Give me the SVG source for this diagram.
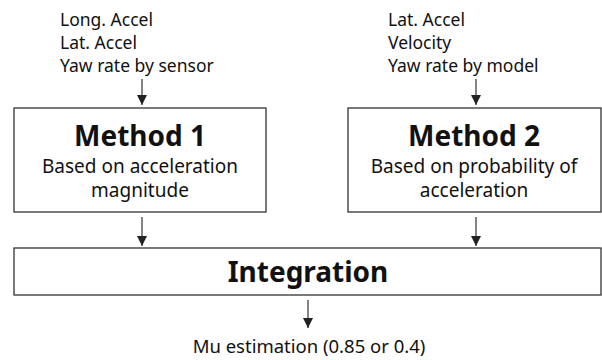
<svg xmlns="http://www.w3.org/2000/svg" width="602" height="360" viewBox="0 0 602 360">
  <defs>
    <marker id="arrow" viewBox="0 0 10 10" refX="10" refY="5" markerWidth="10" markerHeight="10" markerUnits="userSpaceOnUse" orient="auto">
      <path d="M0,0 L10,5 L0,10 Z" fill="#222"/>
    </marker>
    <style>
      .box { fill: #fff; stroke: #333; stroke-width: 1.3; }
      .edge { stroke: #333; stroke-width: 1.2; fill: none; marker-end: url(#arrow); }
      .t { font-family: "Noto Sans", "Open Sans", "DejaVu Sans", sans-serif; fill: #111; }
      .inp { font-size: 17.5px; }
      .title { font-size: 28px; font-weight: bold; text-anchor: middle; }
      .sub { font-size: 19px; text-anchor: middle; }
      .out { font-size: 18.5px; text-anchor: middle; }
    </style>
  </defs>
  <rect width="602" height="360" fill="#fff"/>

  <!-- input lists -->
  <g id="inputs1">
    <text class="t inp" x="60" y="26">Long. Accel</text>
    <text class="t inp" x="60" y="49">Lat. Accel</text>
    <text class="t inp" x="60" y="72">Yaw rate by sensor</text>
  </g>
  <g id="inputs2">
    <text class="t inp" x="388" y="26">Lat. Accel</text>
    <text class="t inp" x="388" y="49">Velocity</text>
    <text class="t inp" x="388" y="72">Yaw rate by model</text>
  </g>

  <!-- method blocks -->
  <g id="method1">
    <rect class="box" x="14" y="108" width="252" height="104"/>
    <text class="t title" x="140" y="146">Method 1</text>
    <text class="t sub" x="140" y="173">Based on acceleration</text>
    <text class="t sub" x="140" y="197">magnitude</text>
  </g>
  <g id="method2">
    <rect class="box" x="348" y="108" width="253" height="104"/>
    <text class="t title" x="474" y="146">Method 2</text>
    <text class="t sub" x="474" y="173">Based on probability of</text>
    <text class="t sub" x="474" y="197">acceleration</text>
  </g>

  <!-- integration block -->
  <g id="integration">
    <rect class="box" x="14" y="248" width="587" height="47"/>
    <text class="t title" x="308" y="282">Integration</text>
  </g>

  <!-- output label -->
  <g id="output">
    <text class="t out" x="309" y="353">Mu estimation (0.85 or 0.4)</text>
  </g>

  <!-- connectors -->
  <g id="connectors">
    <line class="edge" x1="142" y1="79" x2="142" y2="105"/>
    <line class="edge" x1="476" y1="79" x2="476" y2="105"/>
    <line class="edge" x1="142" y1="217" x2="142" y2="246"/>
    <line class="edge" x1="476" y1="217" x2="476" y2="246"/>
    <line class="edge" x1="308" y1="300" x2="308" y2="328"/>
  </g>
</svg>
